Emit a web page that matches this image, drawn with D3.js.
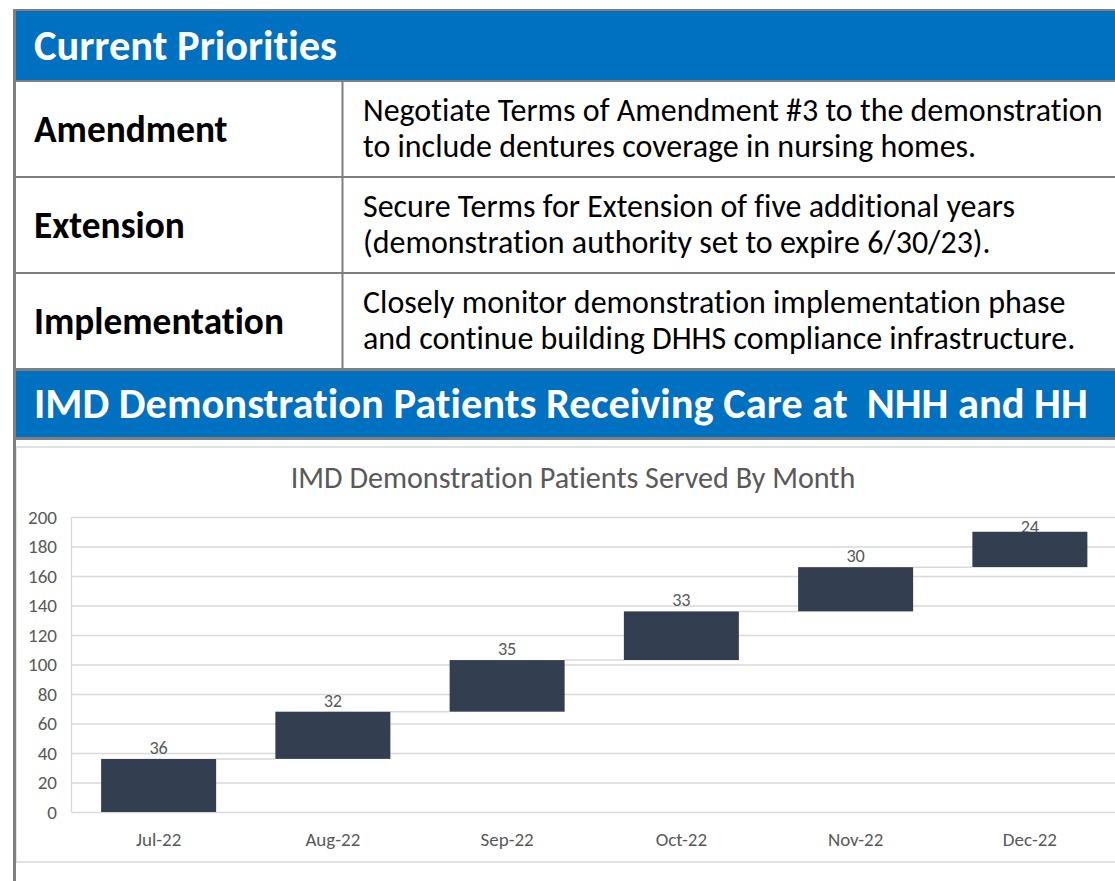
<!DOCTYPE html>
<html><head><meta charset="utf-8">
<script src="https://cdn.jsdelivr.net/npm/d3@7"></script>
<style>
html,body{margin:0;padding:0;background:#fff;}
svg{display:block;}
text{font-family: Carlito, Lato, "Open Sans", sans-serif; font-variant-ligatures: none; font-feature-settings: "liga" 0, "clig" 0;}
</style></head><body>
<svg id="c" width="1115" height="881"></svg>
<script>
// ---- data ----
const headerTitles = ["Current Priorities", "IMD Demonstration Patients Receiving Care at  NHH and HH"];
const priorityLabels = ["Amendment", "Extension", "Implementation"];
const priorityDetails = [
  ["Negotiate Terms of Amendment #3 to the demonstration", "to include dentures coverage in nursing homes."],
  ["Secure Terms for Extension of five additional years", "(demonstration authority set to expire 6/30/23)."],
  ["Closely monitor demonstration implementation phase", "and continue building DHHS compliance infrastructure."]
];
const chartTitle = "IMD Demonstration Patients Served By Month";
const months = ["Jul-22", "Aug-22", "Sep-22", "Oct-22", "Nov-22", "Dec-22"];
const patients = [36, 32, 35, 33, 30, 24];
const yTickValues = [0, 20, 40, 60, 80, 100, 120, 140, 160, 180, 200];

// ---- helpers ----
const svg = d3.select("#c");
function fit(sel, target) {
  const fs = parseFloat(sel.attr("font-size"));
  const w = sel.node().getComputedTextLength();
  const nf = fs * target / w;
  sel.attr("font-size", nf);
  return nf;
}
const BLUE = "#0070C0", BORDER = "#7f7f7f", GRID = "#d9d9d9", TXT = "#595959", BAR = "#333F50";

// ---- table ----
svg.append("rect").attr("x", 16).attr("y", 11).attr("width", 1110).attr("height", 69).attr("fill", BLUE);
svg.append("rect").attr("x", 16).attr("y", 371).attr("width", 1110).attr("height", 66).attr("fill", BLUE);
// chart box
svg.append("rect").attr("x", 16).attr("y", 447).attr("width", 1120).attr("height", 415)
  .attr("fill", "none").attr("stroke", GRID).attr("stroke-width", 1.5);

const hLines = [[10, 2], [81, 2], [177, 2], [273, 2], [369.5, 3], [438.5, 3]];
hLines.forEach(([yy, w]) => svg.append("line").attr("x1", 13).attr("x2", 1115).attr("y1", yy).attr("y2", yy)
  .attr("stroke", BORDER).attr("stroke-width", w));
svg.append("line").attr("x1", 14.5).attr("x2", 14.5).attr("y1", 9).attr("y2", 881).attr("stroke", BORDER).attr("stroke-width", 3);
svg.append("line").attr("x1", 342.5).attr("x2", 342.5).attr("y1", 81).attr("y2", 369).attr("stroke", BORDER).attr("stroke-width", 2);

const h1 = svg.append("text").attr("x", 34).attr("y", 60).attr("fill", "#fff").attr("font-weight", "bold")
  .attr("font-size", 36).text(headerTitles[0]);
fit(h1, 303);
const h2 = svg.append("text").attr("x", 34).attr("y", 418).attr("fill", "#fff").attr("font-weight", "bold")
  .style("white-space", "pre").attr("font-size", 36).text(headerTitles[1]);
fit(h2, 1054);

const rowTops = [82, 178, 274];
const labels = svg.selectAll("text.lab").data(priorityLabels).join("text").attr("class", "lab")
  .attr("x", 34).attr("y", (d, i) => rowTops[i] + 60).attr("fill", "#000").attr("font-weight", "bold")
  .attr("font-size", 30).text(d => d);
const labFs = fit(labels.filter((d, i) => i === 2), 250);
labels.attr("font-size", labFs);

const detailLines = [];
priorityDetails.forEach((lines, r) => lines.forEach((t, k) => detailLines.push({ t, r, k })));
const det = svg.selectAll("text.det").data(detailLines).join("text").attr("class", "det")
  .attr("x", 363).attr("y", d => rowTops[d.r] + 39 + d.k * 36).attr("fill", "#000")
  .attr("font-size", 26).text(d => d.t);
const detFs = fit(det.filter((d, i) => i === 0), 740);
det.attr("font-size", detFs);

// ---- chart ----
const x = d3.scaleBand().domain(months).range([71.5, 1117]).paddingInner(0.34).paddingOuter(0.17);
const y = d3.scaleLinear().domain([0, 200]).range([812, 517]);
const ends = d3.cumsum(patients);
const bars = months.map((m, i) => ({ m, v: patients[i], end: ends[i], start: ends[i] - patients[i] }));

const title = svg.append("text").attr("x", 573).attr("y", 488).attr("text-anchor", "middle")
  .attr("fill", TXT).attr("font-size", 24).text(chartTitle);
fit(title, 565);

// gridlines
const grid = svg.append("g").attr("transform", "translate(71.5,0)")
  .call(d3.axisLeft(y).tickValues(yTickValues).tickSize(-(1117 - 71.5)).tickFormat(""));
grid.select(".domain").remove();
grid.selectAll("line").attr("stroke", GRID).attr("stroke-width", 1.3);
svg.append("line").attr("x1", 71.5).attr("x2", 71.5).attr("y1", y(200)).attr("y2", y(0))
  .attr("stroke", GRID).attr("stroke-width", 1.3);

// y labels
const yAx = svg.append("g").attr("transform", "translate(57,0)")
  .call(d3.axisLeft(y).tickValues(yTickValues).tickSize(0).tickPadding(0));
yAx.select(".domain").remove();
yAx.attr("font-family", null);
yAx.selectAll("text").attr("fill", TXT).attr("font-size", 16);
const yFs = fit(yAx.selectAll("text").filter(d => d === 200), 29);
yAx.selectAll("text").attr("font-size", yFs);

// x labels
const xAx = svg.append("g").attr("transform", "translate(0,812)")
  .call(d3.axisBottom(x).tickSize(0));
xAx.select(".domain").remove();
xAx.attr("font-family", null);
xAx.selectAll("text").attr("fill", TXT).attr("y", 34).attr("dy", 0).attr("font-size", 16);
const xFs = fit(xAx.selectAll("text").filter(d => d === "Aug-22"), 55);
xAx.selectAll("text").attr("font-size", xFs);

// connectors
svg.append("g").selectAll("line").data(bars.slice(0, -1)).join("line")
  .attr("x1", d => x(d.m) + x.bandwidth()).attr("x2", (d, i) => x(months[i + 1]))
  .attr("y1", d => y(d.end)).attr("y2", d => y(d.end))
  .attr("stroke", GRID).attr("stroke-width", 1.5);

// data labels (under bars)
const dl = svg.append("g").selectAll("text").data(bars).join("text")
  .attr("x", d => x(d.m) + x.bandwidth() / 2)
  .attr("y", d => Math.max(y(d.end) - 5, y(200) + 16))
  .attr("text-anchor", "middle").attr("fill", TXT).attr("font-size", 16).text(d => d.v);
const dlFs = fit(dl.filter((d, i) => i === 0), 18.5);
dl.attr("font-size", dlFs);

// bars
svg.append("g").selectAll("rect").data(bars).join("rect")
  .attr("x", d => x(d.m)).attr("width", x.bandwidth())
  .attr("y", d => y(d.end)).attr("height", d => y(d.start) - y(d.end))
  .attr("fill", BAR);
</script>
</body></html>
